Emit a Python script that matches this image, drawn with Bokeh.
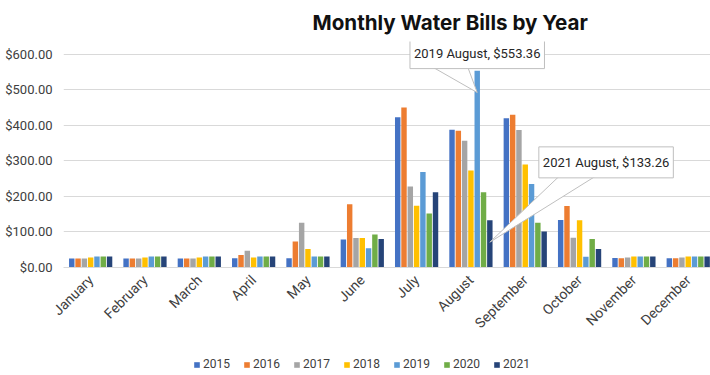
import numpy as np
from bokeh.plotting import figure
from bokeh.layouts import column
from bokeh.models import Range1d, FixedTicker, NumeralTickFormatter, Legend, LegendItem, Label
from bokeh.embed import file_html
from bokeh.resources import INLINE

months = ["January", "February", "March", "April", "May", "June", "July",
          "August", "September", "October", "November", "December"]
years = ["2015", "2016", "2017", "2018", "2019", "2020", "2021"]
colors = ["#4472C4", "#ED7D31", "#A5A5A5", "#FFC000", "#5B9BD5", "#70AD47", "#264478"]
y_ticks = [0, 100, 200, 300, 400, 500, 600]

bills_2015 = [25, 25, 25, 26, 26, 79, 423, 388, 420, 134, 27, 26]
bills_2016 = [25, 25, 25, 35, 73, 178, 450, 385, 430, 173, 26, 26]
bills_2017 = [25, 25, 25, 47, 126, 83, 228, 357, 387, 84, 28, 28]
bills_2018 = [28, 28, 28, 28, 52, 83, 174, 273, 290, 133, 31, 31]
bills_2019 = [31, 31, 31, 31, 31, 54, 269, 553.36, 235, 30, 31, 31]
bills_2020 = [31, 31, 31, 31, 31, 93, 152, 212, 126, 80, 31, 31]
bills_2021 = [31, 31, 31, 31, 31, 80, 212, 133.26, 101, 52, 31, 31]
series = [bills_2015, bills_2016, bills_2017, bills_2018, bills_2019, bills_2020, bills_2021]

FONT = "Roboto"

p = figure(width=710, height=345, output_backend="svg", toolbar_location=None,
           x_range=Range1d(0, 11.91), y_range=Range1d(0, 636),
           min_border_left=63, min_border_right=0, min_border_top=40, min_border_bottom=78)
p.outline_line_color = None
p.background_fill_color = "white"
p.border_fill_color = "white"

p.title.text = "Monthly Water Bills by Year"
p.title.text_font = "Inter"
p.title.text_font_size = "20.6px"
p.title.text_font_style = "bold"
p.title.text_color = "#111111"
p.title.align = "left"
p.title.offset = 249
p.title.standoff = 14

centers = np.arange(len(months)) + 0.5
pitch = 0.116
for k, (yr, vals, c) in enumerate(zip(years, series, colors)):
    xs = centers + (k - 3) * pitch
    p.vbar(x=xs, top=vals, width=0.1, fill_color=c, line_color=None)

# axes
p.xaxis.ticker = FixedTicker(ticks=list(centers))
p.xaxis.major_label_overrides = {float(c): m for c, m in zip(centers, months)}
p.xaxis.major_label_orientation = np.pi / 4
p.xaxis.axis_line_color = "#d9d9d9"
p.xaxis.major_tick_line_color = None
p.xaxis.minor_tick_line_color = None
p.xaxis.major_tick_out = 0
p.xaxis.major_tick_in = 0
p.xaxis.major_label_text_font = FONT
p.xaxis.major_label_text_font_size = "14px"
p.xaxis.major_label_text_color = "#404040"
p.xaxis.major_label_standoff = 10

p.yaxis.ticker = FixedTicker(ticks=y_ticks)
p.yaxis.formatter = NumeralTickFormatter(format="$0,0.00")
p.yaxis.axis_line_color = None
p.yaxis.major_tick_line_color = None
p.yaxis.minor_tick_line_color = None
p.yaxis.major_tick_out = 0
p.yaxis.major_tick_in = 0
p.yaxis.major_label_text_font = FONT
p.yaxis.major_label_text_font_size = "13px"
p.yaxis.major_label_text_color = "#404040"
p.yaxis.major_label_standoff = 11

p.xgrid.grid_line_color = None
p.ygrid.grid_line_color = "#d9d9d9"
p.ygrid.ticker = FixedTicker(ticks=y_ticks)

# callouts
def callout(month_idx, year_idx, text, box_dx, box_dy, base_l, base_r, base_dy, tip_dy):
    val = series[year_idx][month_idx]
    bx = centers[month_idx] + (year_idx - 3) * pitch
    p.patch([bx + base_l, bx, bx + base_r], [val + base_dy, val + tip_dy, val + base_dy],
            fill_color="white", line_color="#bfbfbf", line_width=1)
    p.add_layout(Label(x=bx + box_dx, y=val + box_dy, text=text,
                       text_align="center", text_baseline="middle",
                       text_font=FONT, text_font_size="13px", text_color="#262626",
                       background_fill_color="white", border_line_color="#bfbfbf",
                       padding=(4, 8)))

callout(7, 4, "2019 August, $553.36", 0.0, 50, -0.865, -0.184, 14.5, -61)
callout(7, 6, "2021 August, $133.26", 2.14, 162.6, 1.30, 1.98, 127, -62)

# legend strip (bars kept out of its view; only the legend is shown)
lf = figure(width=710, height=30, output_backend="svg", toolbar_location=None,
            x_axis_type=None, y_axis_type=None, x_range=Range1d(-3, -2), y_range=Range1d(0, 1),
            min_border_left=0, min_border_right=0, min_border_top=0, min_border_bottom=0)
lf.outline_line_color = None
lf.xgrid.grid_line_color = None
lf.ygrid.grid_line_color = None
items = []
for k, (yr, vals, c) in enumerate(zip(years, series, colors)):
    r = lf.vbar(x=centers + (k - 3) * pitch, top=vals, width=0.1, fill_color=c, line_color=None)
    items.append(LegendItem(label=yr, renderers=[r]))
legend = Legend(items=items, orientation="horizontal", location=(130, 4),
                glyph_width=7, glyph_height=7, label_standoff=3, spacing=13,
                padding=0, margin=0, border_line_color=None, background_fill_alpha=0,
                label_text_font=FONT, label_text_font_size="12px",
                label_text_color="#404040", label_height=14)
lf.add_layout(legend, "center")

open("out.html", "w").write(file_html(column(p, lf, spacing=0), INLINE))
